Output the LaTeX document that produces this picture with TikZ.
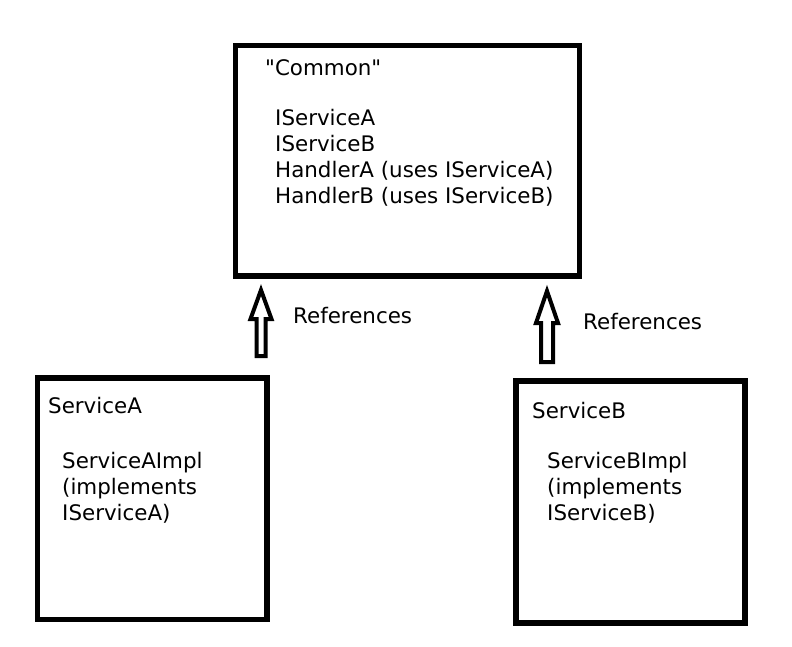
\documentclass[tikz,border=0pt]{standalone}
\usepackage{fontspec}
\setmainfont{DejaVu Sans}
\newfontfamily\plainsans{DejaVu Sans}
\usetikzlibrary{calc,positioning}

\begin{document}
\begin{tikzpicture}[
  x=1pt, y=-1pt,
  box/.style={draw, line width=5.5pt, minimum width=#1, inner sep=0pt},
  txt/.style={anchor=base west, inner sep=0pt, font=\plainsans\fontsize{21.4}{26}\selectfont, align=left},
  arrline/.style={draw, line width=4pt, line join=miter, miter limit=10}
]
  \useasboundingbox (0,0) rectangle (792,646);

  % boxes
  \node[box=344pt, minimum height=230.5pt] (common) at (407.5,160.75) {};
  \node[box=229.5pt, minimum height=241.5pt] (sa) at (152.25,498.75) {};
  \node[box=229pt, minimum height=242pt] (sb) at (630.5,502) {};

  % texts (base of the last line)
  \node[txt] (commontitle) at (265,75) {"Common"};
  \node[txt] (commonlist) at (275,203) {IServiceA\\IServiceB\\HandlerA (uses IServiceA)\\HandlerB (uses IServiceB)};
  \node[txt] (satitle) at (48,413) {ServiceA};
  \node[txt] (salist) at (62,520) {ServiceAImpl\\(implements\\IServiceA)};
  \node[txt] (sbtitle) at (532,418) {ServiceB};
  \node[txt] (sblist) at (547,520) {ServiceBImpl\\(implements\\IServiceB)};

  % arrows
  \coordinate (tipA) at (261,290);
  \coordinate (endA) at (261,356);
  \coordinate (tipB) at (547,291);
  \coordinate (endB) at (547,362);

  \draw[arrline] ($(endA)+(-4.5,0)$) -- ($(tipA)+(-4.5,29)$) -- ($(tipA)+(-10.5,29)$) -- (tipA)
    -- ($(tipA)+(10.5,29)$) -- ($(tipA)+(4.5,29)$) -- ($(endA)+(4.5,0)$) -- cycle;
  \draw[arrline] ($(endB)+(-6,0)$) -- ($(tipB)+(-6,32)$) -- ($(tipB)+(-11,32)$) -- (tipB)
    -- ($(tipB)+(11,32)$) -- ($(tipB)+(6,32)$) -- ($(endB)+(6,0)$) -- cycle;

  \node[txt] (refA) at (293,323) {References};
  \node[txt] (refB) at (583,329) {References};
\end{tikzpicture}
\end{document}
